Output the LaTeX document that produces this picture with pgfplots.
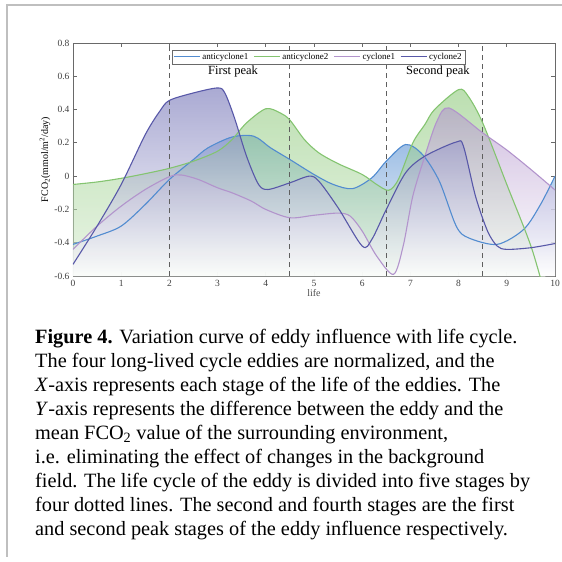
\documentclass[border=0pt]{standalone}
\usepackage{fontspec}
\setmainfont{Liberation Serif}
\usepackage{pgfplots}
\usepackage{pgfplotstable}
\pgfplotsset{compat=1.18}

\definecolor{acone}{RGB}{82,140,208}
\definecolor{actwo}{RGB}{132,196,112}
\definecolor{cone}{RGB}{178,148,204}
\definecolor{ctwo}{RGB}{88,88,168}
\definecolor{axgray}{RGB}{105,105,105}

\pgfplotstableread{
x y
0 -0.41
0.5 -0.36
1 -0.30
1.5 -0.17
2 -0.02
2.5 0.10
2.8 0.17
3.3 0.235
3.75 0.24
4.1 0.17
4.5 0.10
5 0.01
5.4 -0.05
5.8 -0.075
6.2 -0.01
6.5 0.09
6.9 0.19
7.25 0.13
7.6 -0.03
7.95 -0.30
8.2 -0.37
8.8 -0.41
9.35 -0.32
9.7 -0.17
10 0.0
}\tabAcOne

\pgfplotstableread{
x y
0 -0.05
0.5 -0.035
1 -0.013
1.5 0.015
2 0.047
2.5 0.09
3 0.15
3.3 0.22
3.6 0.32
4 0.405
4.3 0.38
4.5 0.337
4.8 0.22
5.1 0.14
5.5 0.075
6 0.01
6.3 -0.05
6.55 -0.085
6.75 -0.02
7.05 0.20
7.3 0.31
7.5 0.40
8 0.52
8.2 0.48
8.5 0.32
9 -0.05
9.5 -0.42
9.8 -0.72
}\tabAcTwo

\pgfplotstableread{
x y
0 -0.44
0.5 -0.30
1 -0.18
1.5 -0.08
2 -0.003
2.25 0.007
2.6 -0.02
3 -0.07
3.3 -0.10
3.7 -0.15
4 -0.20
4.5 -0.25
5 -0.235
5.5 -0.222
5.75 -0.24
6 -0.33
6.3 -0.48
6.65 -0.59
6.85 -0.42
7.05 -0.12
7.3 0.12
7.55 0.33
7.8 0.41
8.5 0.26
9 0.157
9.5 0.04
10 -0.083
}\tabCOne

\pgfplotstableread{
x y
0 -0.53
0.5 -0.30
1 -0.05
1.5 0.25
1.8 0.39
2 0.455
2.5 0.50
3 0.53
3.15 0.50
3.35 0.35
3.6 0.12
3.85 -0.05
4.05 -0.08
4.5 -0.04
4.9 0.0
5.1 -0.03
5.5 -0.19
6 -0.42
6.2 -0.38
6.5 -0.20
6.9 0.02
7.3 0.12
7.95 0.205
8.1 0.18
8.35 -0.12
8.6 -0.33
8.8 -0.42
9 -0.44
9.5 -0.43
10 -0.405
}\tabCTwo

\begin{document}
\begin{tikzpicture}
\useasboundingbox (0pt,0pt) rectangle (562pt,-562pt);
\draw[black!25, line width=1.5pt] (562pt,-5pt) -- (7pt,-5pt) -- (7pt,-557pt);
\begin{axis}[
  at={(73pt,-276pt)}, anchor=south west,
  scale only axis, width=482pt, height=233pt,
  xmin=0, xmax=10, ymin=-0.6, ymax=0.8,
  xtick={0,1,2,3,4,5,6,7,8,9,10},
  xticklabels={0,1,2,3,4,5,6,7,8,9,10},
  ytick={-0.6,-0.4,-0.2,0,0.2,0.4,0.6,0.8},
  yticklabels={-0.6,-0.4,-0.2,0,0.2,0.4,0.6,0.8},
  tick align=inside, major tick length=4pt,
  axis line style={axgray, line width=0.9pt},
  tick style={axgray, line width=0.8pt},
  ticklabel style={font=\fontsize{9.5}{10}\selectfont, text=black!75},
  xticklabel style={yshift=-1pt},
  xlabel={life},
  xlabel style={font=\fontsize{10}{10}\selectfont, text=black!70, yshift=4pt},
  ylabel={FCO\textsubscript{2}(mmol/m\textsuperscript{2}/day)},
  ylabel style={font=\fontsize{12.5}{13}\selectfont, text=black!85},
  every axis y label/.style={at={(rel axis cs:0,0.5)}, rotate=90, anchor=center, yshift=28pt},
  legend columns=4,
  legend style={at={(rel axis cs:0.205,0.972)}, anchor=north west, draw=axgray, fill=white,
    font=\fontsize{9}{9}\selectfont, inner sep=1.2pt, line width=0.6pt,
    /tikz/every even column/.append style={column sep=3pt}},
  legend image code/.code={\draw[#1] (0pt,0pt) -- (26pt,0pt);},
]
\addplot[smooth, top color=acone, bottom color=white, fill opacity=0.6, draw=none, forget plot] table {\tabAcOne} -- (axis cs:10,-0.6) -- (axis cs:0,-0.6) -- cycle;
\addplot[smooth, top color=actwo, bottom color=actwo!25!white, fill opacity=0.55, draw=none, forget plot] table {\tabAcTwo} -- (axis cs:9.8,-0.6) -- (axis cs:0,-0.6) -- cycle;
\addplot[smooth, top color=cone, bottom color=white, fill opacity=0.6, draw=none, forget plot] table {\tabCOne} -- (axis cs:10,-0.6) -- (axis cs:0,-0.6) -- cycle;
\addplot[smooth, top color=ctwo!85!white, bottom color=white, fill opacity=0.6, draw=none, forget plot] table {\tabCTwo} -- (axis cs:10,-0.6) -- (axis cs:0,-0.6) -- cycle;

\addplot[axgray!90!black, dash pattern=on 5pt off 4pt, line width=0.9pt, forget plot] coordinates {(2,-0.6) (2,0.8)};
\addplot[axgray!90!black, dash pattern=on 5pt off 4pt, line width=0.9pt, forget plot] coordinates {(4.5,-0.6) (4.5,0.8)};
\addplot[axgray!90!black, dash pattern=on 5pt off 4pt, line width=0.9pt, forget plot] coordinates {(6.5,-0.6) (6.5,0.8)};
\addplot[axgray!90!black, dash pattern=on 5pt off 4pt, line width=0.9pt, forget plot] coordinates {(8.5,-0.6) (8.5,0.8)};

\addplot[acone, line width=1.1pt, smooth] table {\tabAcOne};
\addplot[actwo, line width=1.1pt, smooth] table {\tabAcTwo};
\addplot[cone, line width=1.1pt, smooth] table {\tabCOne};
\addplot[ctwo, line width=1.1pt, smooth] table {\tabCTwo};
\legend{anticyclone1, anticyclone2, cyclone1, cyclone2}

\node[font=\fontsize{12.5}{13}\selectfont] at (axis cs:3.32,0.63) {First peak};
\node[font=\fontsize{12.5}{13}\selectfont] at (axis cs:7.57,0.63) {Second peak};
\end{axis}
\begin{scope}[every node/.style={anchor=base west, inner sep=0pt, font=\fontsize{20.3}{22}\selectfont}]
\node at (35pt,-343pt) {\textbf{Figure 4.} Variation curve of eddy influence with life cycle.};
\node at (35pt,-367pt) {The four long-lived cycle eddies are normalized, and the};
\node at (35pt,-391pt) {\textit{X}-axis represents each stage of the life of the eddies. The};
\node at (35pt,-415pt) {\textit{Y}-axis represents the difference between the eddy and the};
\node at (35pt,-439pt) {mean FCO\textsubscript{2} value of the surrounding environment,};
\node at (35pt,-463pt) {i.e. eliminating the effect of changes in the background};
\node at (35pt,-487pt) {field. The life cycle of the eddy is divided into five stages by};
\node at (35pt,-511pt) {four dotted lines. The second and fourth stages are the first};
\node at (35pt,-535pt) {and second peak stages of the eddy influence respectively.};
\end{scope}
\end{tikzpicture}
\end{document}
